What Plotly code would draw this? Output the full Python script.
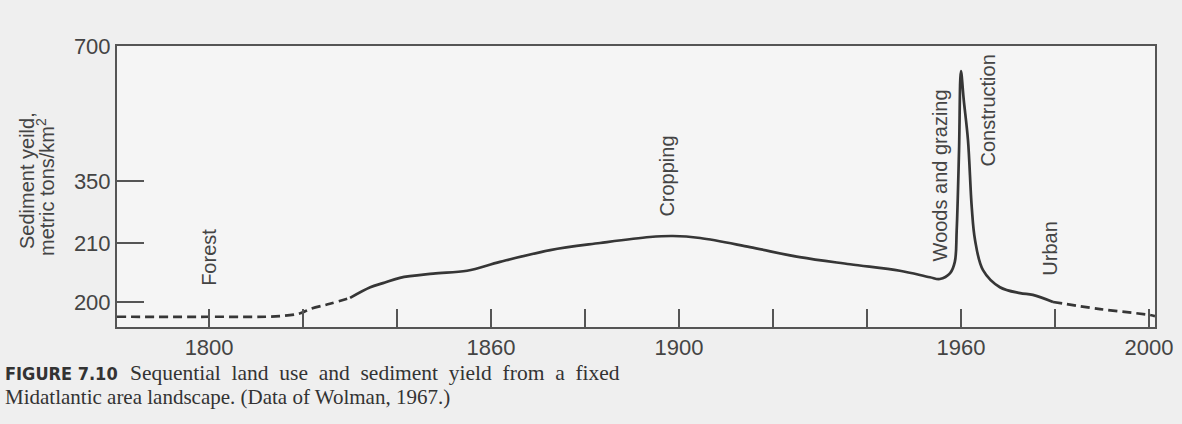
import numpy as np
import plotly.graph_objects as go

# ---- data: sediment yield (metric tons/km2) through time ----
years_forest = [1780.4, 1800, 1815, 1819.4, 1821.5, 1825.7, 1830]
yield_forest = [197.5, 197.5, 197.6, 198.1, 198.8, 199.7, 200.7]

years_main = [1830, 1834.3, 1837, 1840.6, 1847.7, 1854.9, 1861.9, 1872.6, 1883.2,
              1893.8, 1898.7, 1904.5, 1915.1, 1925.7, 1936.4, 1947, 1953.4,
              1955.5, 1957.7, 1958.7, 1959.1, 1959.6, 1960, 1960.6, 1961.5,
              1962.3, 1963, 1964.7, 1968.3, 1972.6, 1975.3, 1979.6]
yield_main = [200.7, 202.5, 203.2, 204.1, 204.8, 205.3, 206.8, 208.8, 210,
              223.5, 225.8, 221.3, 209.3, 207.6, 206.4, 205.3, 204.2,
              203.9, 204.9, 206.8, 239, 430, 635, 560, 456,
              291, 216.8, 205.4, 202.5, 201.5, 201.2, 200]

years_urban = [1979.6, 1989.6, 2000.2, 2001.3]
yield_urban = [200, 198.8, 197.8, 197.6]

ytick_values = [200, 210, 350, 700]
xtick_labelled = [1800, 1860, 1900, 1960, 2000]

land_uses = ["Forest", "Cropping", "Woods and grazing", "Construction", "Urban"]
land_use_years = [1800, 1897.5, 1955.5, 1965.7, 1978.9]
land_use_yields = [207.5, 362, 364, 532, 209.0]

# ---- broken (schematic) vertical scale: yield -> drawing units ----
SCALE_VALS = [200, 210, 350, 700]
SCALE_POS = [25, 84, 146, 281]


def warp(v):
    v = np.asarray(v, dtype=float)
    out = np.interp(v, SCALE_VALS, SCALE_POS)
    low = v < SCALE_VALS[0]
    slope = (SCALE_POS[1] - SCALE_POS[0]) / (SCALE_VALS[1] - SCALE_VALS[0])
    out[low] = SCALE_POS[0] + (v[low] - SCALE_VALS[0]) * slope
    return out


INK = "#363636"
AXIS = "#555555"
TEXT = "#444444"
SANS = "Liberation Sans, Arial, sans-serif"
SERIF = "Liberation Serif, Times New Roman, serif"

fig = go.Figure()
for xs, ys, dash in [(years_forest, yield_forest, "9px,5px"),
                     (years_main, yield_main, "solid"),
                     (years_urban, yield_urban, "9px,5px")]:
    fig.add_trace(go.Scatter(
        x=xs, y=warp(ys), mode="lines",
        line=dict(color=INK, width=2.7, dash=dash, shape="spline", smoothing=1.0),
        hoverinfo="skip", showlegend=False))

for name, yr, yv in zip(land_uses, land_use_years, land_use_yields):
    fig.add_annotation(x=yr, y=float(warp([yv])[0]), text=name, textangle=-90,
                       showarrow=False, font=dict(family=SANS, size=20, color=TEXT))

W, H = 1182, 424
L, R, T, B = 117, 27, 46, 97
pw, ph = W - L - R, H - T - B


def px(x):
    return (x - L) / pw


def py(y):
    return (H - B - y) / ph


# y-axis title on two lines
fig.add_annotation(x=px(27), y=py(181), xref="paper", yref="paper", text="Sediment yeild,",
                   textangle=-90, showarrow=False, xanchor="center", yanchor="middle",
                   font=dict(family=SANS, size=20, color=TEXT))
fig.add_annotation(x=px(45), y=py(187), xref="paper", yref="paper",
                   text="metric tons/km<sup>2</sup>",
                   textangle=-90, showarrow=False, xanchor="center", yanchor="middle",
                   font=dict(family=SANS, size=20, color=TEXT))

# figure caption (first line set justified, with slightly widened word gaps)
gap = " \u00a0"
caption_1 = gap.join("Sequential land use and sediment yield from a fixed".split(" "))
fig.add_annotation(x=px(3), y=py(373), xref="paper", yref="paper", xanchor="left",
                   yanchor="middle", showarrow=False,
                   text="<b>FIGURE 7.10</b>",
                   font=dict(family="DejaVu Sans Condensed, Liberation Sans Narrow, sans-serif",
                             size=18, color="#333333"))
fig.add_annotation(x=px(128), y=py(373), xref="paper", yref="paper", xanchor="left",
                   yanchor="middle", showarrow=False,
                   text=caption_1,
                   font=dict(family=SERIF, size=21.5, color="#333333"))
fig.add_annotation(x=px(3), y=py(397), xref="paper", yref="paper", xanchor="left",
                   yanchor="middle", showarrow=False,
                   text="Midatlantic area landscape. (Data of Wolman, 1967.)",
                   font=dict(family=SERIF, size=21, color="#333333"))

fig.update_xaxes(range=[1780.4, 2001.3], showgrid=False, zeroline=False,
                 showline=True, linecolor=AXIS, linewidth=2, mirror=True,
                 ticks="inside", ticklen=18, tickwidth=1.5, tickcolor=AXIS,
                 tickvals=xtick_labelled, ticktext=[str(y) for y in xtick_labelled],
                 minor=dict(tick0=1800, dtick=20, ticks="inside", ticklen=18,
                            tickwidth=1.5, tickcolor=AXIS, showgrid=False),
                 tickfont=dict(family=SANS, size=22, color=TEXT))
fig.update_yaxes(range=[0, 281], showgrid=False, zeroline=False,
                 showline=True, linecolor=AXIS, linewidth=2, mirror=True,
                 ticks="inside", ticklen=27, tickwidth=1.5, tickcolor=AXIS,
                 tickvals=warp(ytick_values), ticktext=[str(v) for v in ytick_values],
                 tickfont=dict(family=SANS, size=22, color=TEXT))

fig.update_layout(width=W, height=H, margin=dict(l=L, r=R, t=T, b=B, autoexpand=False),
                  paper_bgcolor="#efefef", plot_bgcolor="#f5f5f5")

fig.write_html("out.html")
